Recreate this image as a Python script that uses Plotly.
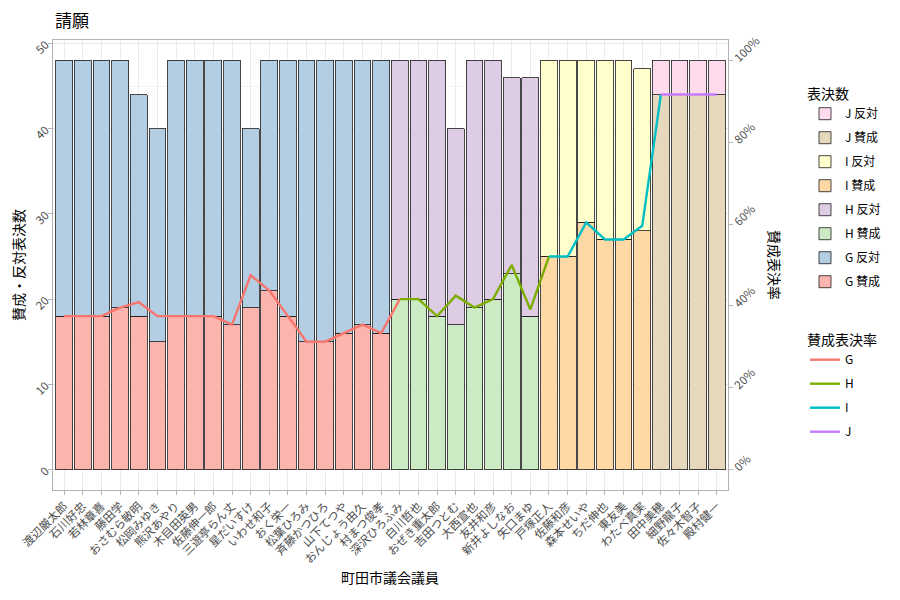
import plotly.graph_objects as go

members = ["渡辺厳太郎", "石川好忠", "若林章喜", "藤田学", "おさむら敏明", "松岡みゆき",
           "熊沢あやり", "木目田英男", "佐藤伸一郎", "三遊亭らん丈", "星だいすけ", "いわせ和子",
           "おく栄一", "松葉ひろみ", "斉藤かつひろ", "山下てつや", "おんじょう由久", "村まつ俊孝",
           "深沢ひろふみ", "白川哲也", "おぜき重太郎", "吉田つとむ", "大西宣也", "友井和彦",
           "新井よしなお", "矢口まゆ",
           "戸塚正人", "佐藤和彦", "森本せいや", "ちだ伸也", "東友美", "わたべ真実",
           "田中美穂", "細野龍子", "佐々木智子", "殿村健一"]
groups = ["G"] * 18 + ["H"] * 8 + ["I"] * 6 + ["J"] * 4
yes_votes = [18, 18, 18, 19, 18, 15, 18, 18, 18, 17, 19, 21, 18, 15, 15, 16, 17, 16,
             20, 20, 18, 17, 19, 20, 23, 18,
             25, 25, 29, 27, 27, 28,
             44, 44, 44, 44]
no_votes = [30, 30, 30, 29, 26, 25, 30, 30, 30, 31, 21, 27, 30, 33, 33, 32, 31, 32,
            28, 28, 30, 23, 29, 28, 23, 28,
            23, 23, 19, 21, 21, 19,
            4, 4, 4, 4]
group_names = ["G", "H", "I", "J"]
yes_colors = {"G": "#FBB4AE", "H": "#CCEBC5", "I": "#FED9A6", "J": "#E5D8BD"}
no_colors = {"G": "#B3CDE3", "H": "#DECBE4", "I": "#FFFFCC", "J": "#FDDAEC"}
line_colors = {"G": "#F8766D", "H": "#7CAE00", "I": "#00BFC4", "J": "#C77CFF"}

rates = [y / (y + n) for y, n in zip(yes_votes, no_votes)]

FONT = "Noto Sans CJK JP"
fig = go.Figure()

outline = dict(color="rgba(30,30,30,0.9)", width=0.9)
for k, g in enumerate(group_names):
    idx = [i for i, gg in enumerate(groups) if gg == g]
    fig.add_trace(go.Bar(x=[members[i] for i in idx], y=[yes_votes[i] for i in idx],
                         name=f"{g} 賛成", marker=dict(color=yes_colors[g], line=outline),
                         legend="legend", legendgroup=f"{g}y", legendrank=100 - 2 * k))
    fig.add_trace(go.Bar(x=[members[i] for i in idx], y=[no_votes[i] for i in idx],
                         name=f"{g} 反対", marker=dict(color=no_colors[g], line=outline),
                         legend="legend", legendgroup=f"{g}n", legendrank=99 - 2 * k))

for k, g in enumerate(group_names):
    idx = [i for i, gg in enumerate(groups) if gg == g]
    if idx[-1] + 1 < len(members):
        idx = idx + [idx[-1] + 1]
    fig.add_trace(go.Scatter(x=[members[i] for i in idx], y=[rates[i] for i in idx],
                             mode="lines", name=g, yaxis="y2",
                             line=dict(color=line_colors[g], width=2.4),
                             legend="legend2", legendgroup=f"L{g}", legendrank=200 + k))

# The page body adds an 8px offset; work in screen pixels and subtract it.
OFF = 8
W, H = 900 - OFF, 600 - OFF
pl, pr, pt, pb = 53, 728, 40, 490  # panel edges on screen


def px_x(x):
    return (x - pl) / (pr - pl)


def px_y(y):
    return (pb - y) / (pb - pt)


fig.update_layout(
    width=W, height=H,
    barmode="stack", bargap=0.1,
    plot_bgcolor="white", paper_bgcolor="white",
    font=dict(family=FONT, size=12, color="#1A1A1A"),
    margin=dict(l=pl - OFF, r=W - (pr - OFF), t=pt - OFF, b=H - (pb - OFF), autoexpand=False),
    title=dict(text="請願", x=(55 - OFF) / W, xref="container", xanchor="left",
               y=1 - (21 - OFF) / H, yref="container", yanchor="middle",
               font=dict(size=17, color="black")),
    xaxis=dict(type="category", categoryorder="array", categoryarray=members,
               range=[-0.6, 35.6], tickangle=-45, automargin=False,
               tickfont=dict(size=11.5, color="#4D4D4D"),
               showgrid=True, gridcolor="#EBEBEB", gridwidth=1,
               ticks="outside", ticklen=4, tickcolor="#B3B3B3",
               showline=True, mirror=True, linecolor="#B3B3B3", linewidth=1,
               zeroline=False),
    yaxis=dict(range=[-2.4, 50.4], tick0=0, dtick=10, tickangle=-45, automargin=False,
               tickfont=dict(size=11.5, color="#4D4D4D"),
               showgrid=True, gridcolor="#E6E6E6", gridwidth=1,
               minor=dict(showgrid=True, dtick=5, tick0=0, gridcolor="#F3F3F3", gridwidth=0.6),
               ticks="outside", ticklen=4, tickcolor="#B3B3B3",
               showline=True, mirror=True, linecolor="#B3B3B3", linewidth=1,
               zeroline=False),
    yaxis2=dict(overlaying="y", side="right", range=[-0.05, 1.05], tick0=0, dtick=0.2,
                tickformat=".0%", tickangle=-45, automargin=False,
                tickfont=dict(size=11.5, color="#4D4D4D"),
                showgrid=False, zeroline=False, showline=False,
                ticks="outside", ticklen=4, tickcolor="#B3B3B3"),
    legend=dict(title=dict(text="表決数", font=dict(size=14, color="black")),
                traceorder="grouped", tracegroupgap=5,
                x=px_x(805), y=px_y(81), xanchor="left", yanchor="top",
                font=dict(size=12, color="black"), bgcolor="rgba(0,0,0,0)"),
    legend2=dict(title=dict(text="賛成表決率", font=dict(size=14, color="black")),
                 traceorder="grouped", tracegroupgap=5,
                 x=px_x(805), y=px_y(327), xanchor="left", yanchor="top",
                 font=dict(size=12, color="black"), bgcolor="rgba(0,0,0,0)"),
    annotations=[
        dict(text="賛成表決率", textangle=90, x=px_x(775), y=px_y(265), xref="paper", yref="paper",
             xanchor="center", yanchor="middle", showarrow=False,
             font=dict(size=14, color="black")),
        dict(text="賛成・反対表決数", textangle=-90, x=px_x(18), y=px_y(265), xref="paper", yref="paper",
             xanchor="center", yanchor="middle", showarrow=False,
             font=dict(size=14, color="black")),
        dict(text="町田市議会議員", x=px_x(390), y=px_y(577), xref="paper", yref="paper",
             xanchor="center", yanchor="middle", showarrow=False,
             font=dict(size=14, color="black")),
    ],
    showlegend=True,
)

fig.write_html("out.html")
